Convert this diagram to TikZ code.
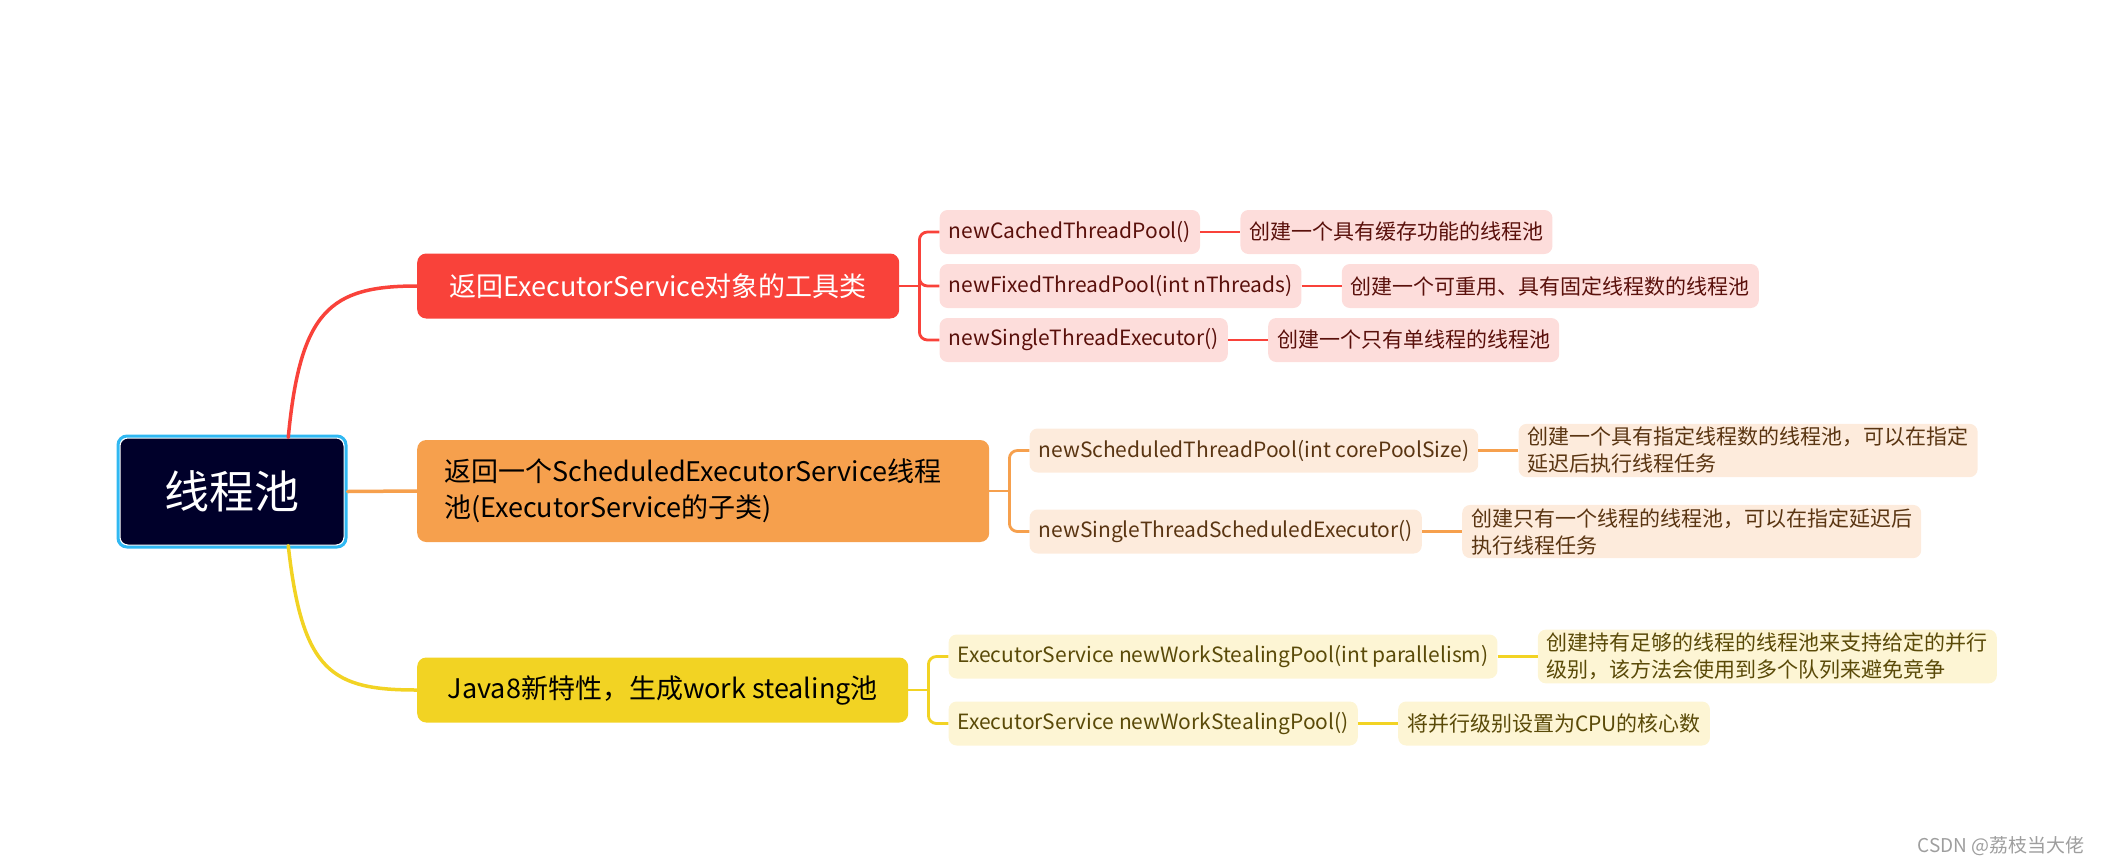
\documentclass[tikz,border=0pt]{standalone}
\usepackage{fontspec}
\setmainfont{Noto Sans CJK SC}
\usetikzlibrary{positioning,calc,fit}

\definecolor{mapnavy}{HTML}{00002A}
\definecolor{mapcyan}{HTML}{30B8F2}
\definecolor{mapred}{HTML}{F9423A}
\definecolor{maporange}{HTML}{F6A04D}
\definecolor{mapyellow}{HTML}{F2D323}
\definecolor{redpale}{HTML}{FDDDDB}
\definecolor{orangepale}{HTML}{FDEBDC}
\definecolor{yellowpale}{HTML}{FDF5D4}
\definecolor{redink}{HTML}{5A100B}
\definecolor{orangeink}{HTML}{5A3512}
\definecolor{yellowink}{HTML}{5A4A08}

\tikzset{
  hub/.style={rectangle, rounded corners=8pt, fill=mapnavy, draw=white,
    line width=1pt, minimum width=224pt, minimum height=107pt,
    text=white, font=\fontsize{45}{54}\selectfont},
  hubring/.style={rectangle, rounded corners=9pt, draw=mapcyan,
    line width=3pt, inner sep=1.5pt},
  branch/.style={rectangle, rounded corners=9pt, minimum height=65pt,
    inner xsep=27pt, align=left, anchor=west,
    font=\fontsize{27}{36}\selectfont},
  leaf/.style={rectangle, rounded corners=8pt, minimum height=44pt,
    inner xsep=9pt, align=left, font=\fontsize{21}{27}\selectfont},
  redleaf/.style={leaf, fill=redpale, text=redink},
  orangeleaf/.style={leaf, fill=orangepale, text=orangeink},
  yellowleaf/.style={leaf, fill=yellowpale, text=yellowink},
  stem/.style={line width=3.5pt, line cap=round},
  link/.style={line width=2.8pt, rounded corners=8pt}
}

\begin{document}
\begin{tikzpicture}[x=1pt, y=-1pt]
\useasboundingbox (0,0) rectangle (2104,865);

% root and its three branches
\node[hub] (pool) at (232,491.5) {线程池};
\node[hubring, fit=(pool)] (poolring) {};

\node[branch, fill=mapred, text=white, minimum width=482pt] (exec) at (417,286)
  {返回ExecutorService对象的工具类};
\node[branch, fill=maporange, text=black, text width=518pt, minimum height=102pt]
  (sched) at (417,491)
  {返回一个ScheduledExecutorService线程\\池(ExecutorService的子类)};
\node[branch, fill=mapyellow, text=black, minimum width=491pt] (steal) at (417,690)
  {Java8新特性，生成work stealing池};

\coordinate (pooltop) at ($(pool.north)!0.5!(pool.north east)$);
\coordinate (poolbot) at ($(pool.south)!0.5!(pool.south east)$);
\draw[stem, mapred] (pooltop) .. controls +(12,-127) and +(-87,0) .. (exec.west);
\draw[stem, maporange] (poolring.east) -- (sched.west);
\draw[stem, mapyellow] (poolbot) .. controls +(14,127) and +(-85,0) .. (steal.west);

% ExecutorService factories
\node[redleaf, right=40pt of exec, yshift=54pt] (cached) {newCachedThreadPool()};
\node[redleaf, right=40pt of exec] (fixed) {newFixedThreadPool(int nThreads)};
\node[redleaf, right=40pt of exec, yshift=-54pt] (single) {newSingleThreadExecutor()};
\node[redleaf, right=40pt of cached] (cachedtxt) {创建一个具有缓存功能的线程池};
\node[redleaf, right=40pt of fixed] (fixedtxt) {创建一个可重用、具有固定线程数的线程池};
\node[redleaf, right=40pt of single] (singletxt) {创建一个只有单线程的线程池};

% scheduled pools
\node[orangeleaf, right=40pt of sched, yshift=40.5pt] (scheduled)
  {newScheduledThreadPool(int corePoolSize)};
\node[orangeleaf, right=40pt of sched, yshift=-40.5pt] (singlesched)
  {newSingleThreadScheduledExecutor()};
\node[orangeleaf, right=40pt of scheduled] (scheduledtxt)
  {创建一个具有指定线程数的线程池，可以在指定\\延迟后执行线程任务};
\node[orangeleaf, right=40pt of singlesched] (singleschedtxt)
  {创建只有一个线程的线程池，可以在指定延迟后\\执行线程任务};

% work stealing pools
\node[yellowleaf, right=40pt of steal, yshift=33.5pt] (stealpar)
  {ExecutorService newWorkStealingPool(int parallelism)};
\node[yellowleaf, right=40pt of steal, yshift=-33.5pt] (stealcpu)
  {ExecutorService newWorkStealingPool()};
\node[yellowleaf, right=40pt of stealpar] (stealpartxt)
  {创建持有足够的线程的线程池来支持给定的并行\\级别，该方法会使用到多个队列来避免竞争};
\node[yellowleaf, right=40pt of stealcpu] (stealcputxt)
  {将并行级别设置为CPU的核心数};

% forks
\coordinate (execfork) at ($(exec.east)+(20,0)$);
\coordinate (schedfork) at ($(sched.east)+(20,0)$);
\coordinate (stealfork) at ($(steal.east)+(20,0)$);
\draw[link, mapred] (exec.east) -- (execfork);
\foreach \n in {cached,fixed,single}
  \draw[link, mapred] (execfork) |- (\n.west);
\draw[link, maporange] (sched.east) -- (schedfork);
\foreach \n in {scheduled,singlesched}
  \draw[link, maporange] (schedfork) |- (\n.west);
\draw[link, mapyellow] (steal.east) -- (stealfork);
\foreach \n in {stealpar,stealcpu}
  \draw[link, mapyellow] (stealfork) |- (\n.west);

\draw[link, mapred] (cached) -- (cachedtxt);
\draw[link, mapred] (fixed) -- (fixedtxt);
\draw[link, mapred] (single) -- (singletxt);
\draw[link, maporange] (scheduled) -- (scheduledtxt);
\draw[link, maporange] (singlesched) -- (singleschedtxt);
\draw[link, mapyellow] (stealpar) -- (stealpartxt);
\draw[link, mapyellow] (stealcpu) -- (stealcputxt);

\node[anchor=east, text=black!38, font=\fontsize{19}{22}\selectfont] (mark)
  at (2088,846) {CSDN @荔枝当大佬};
\end{tikzpicture}
\end{document}
